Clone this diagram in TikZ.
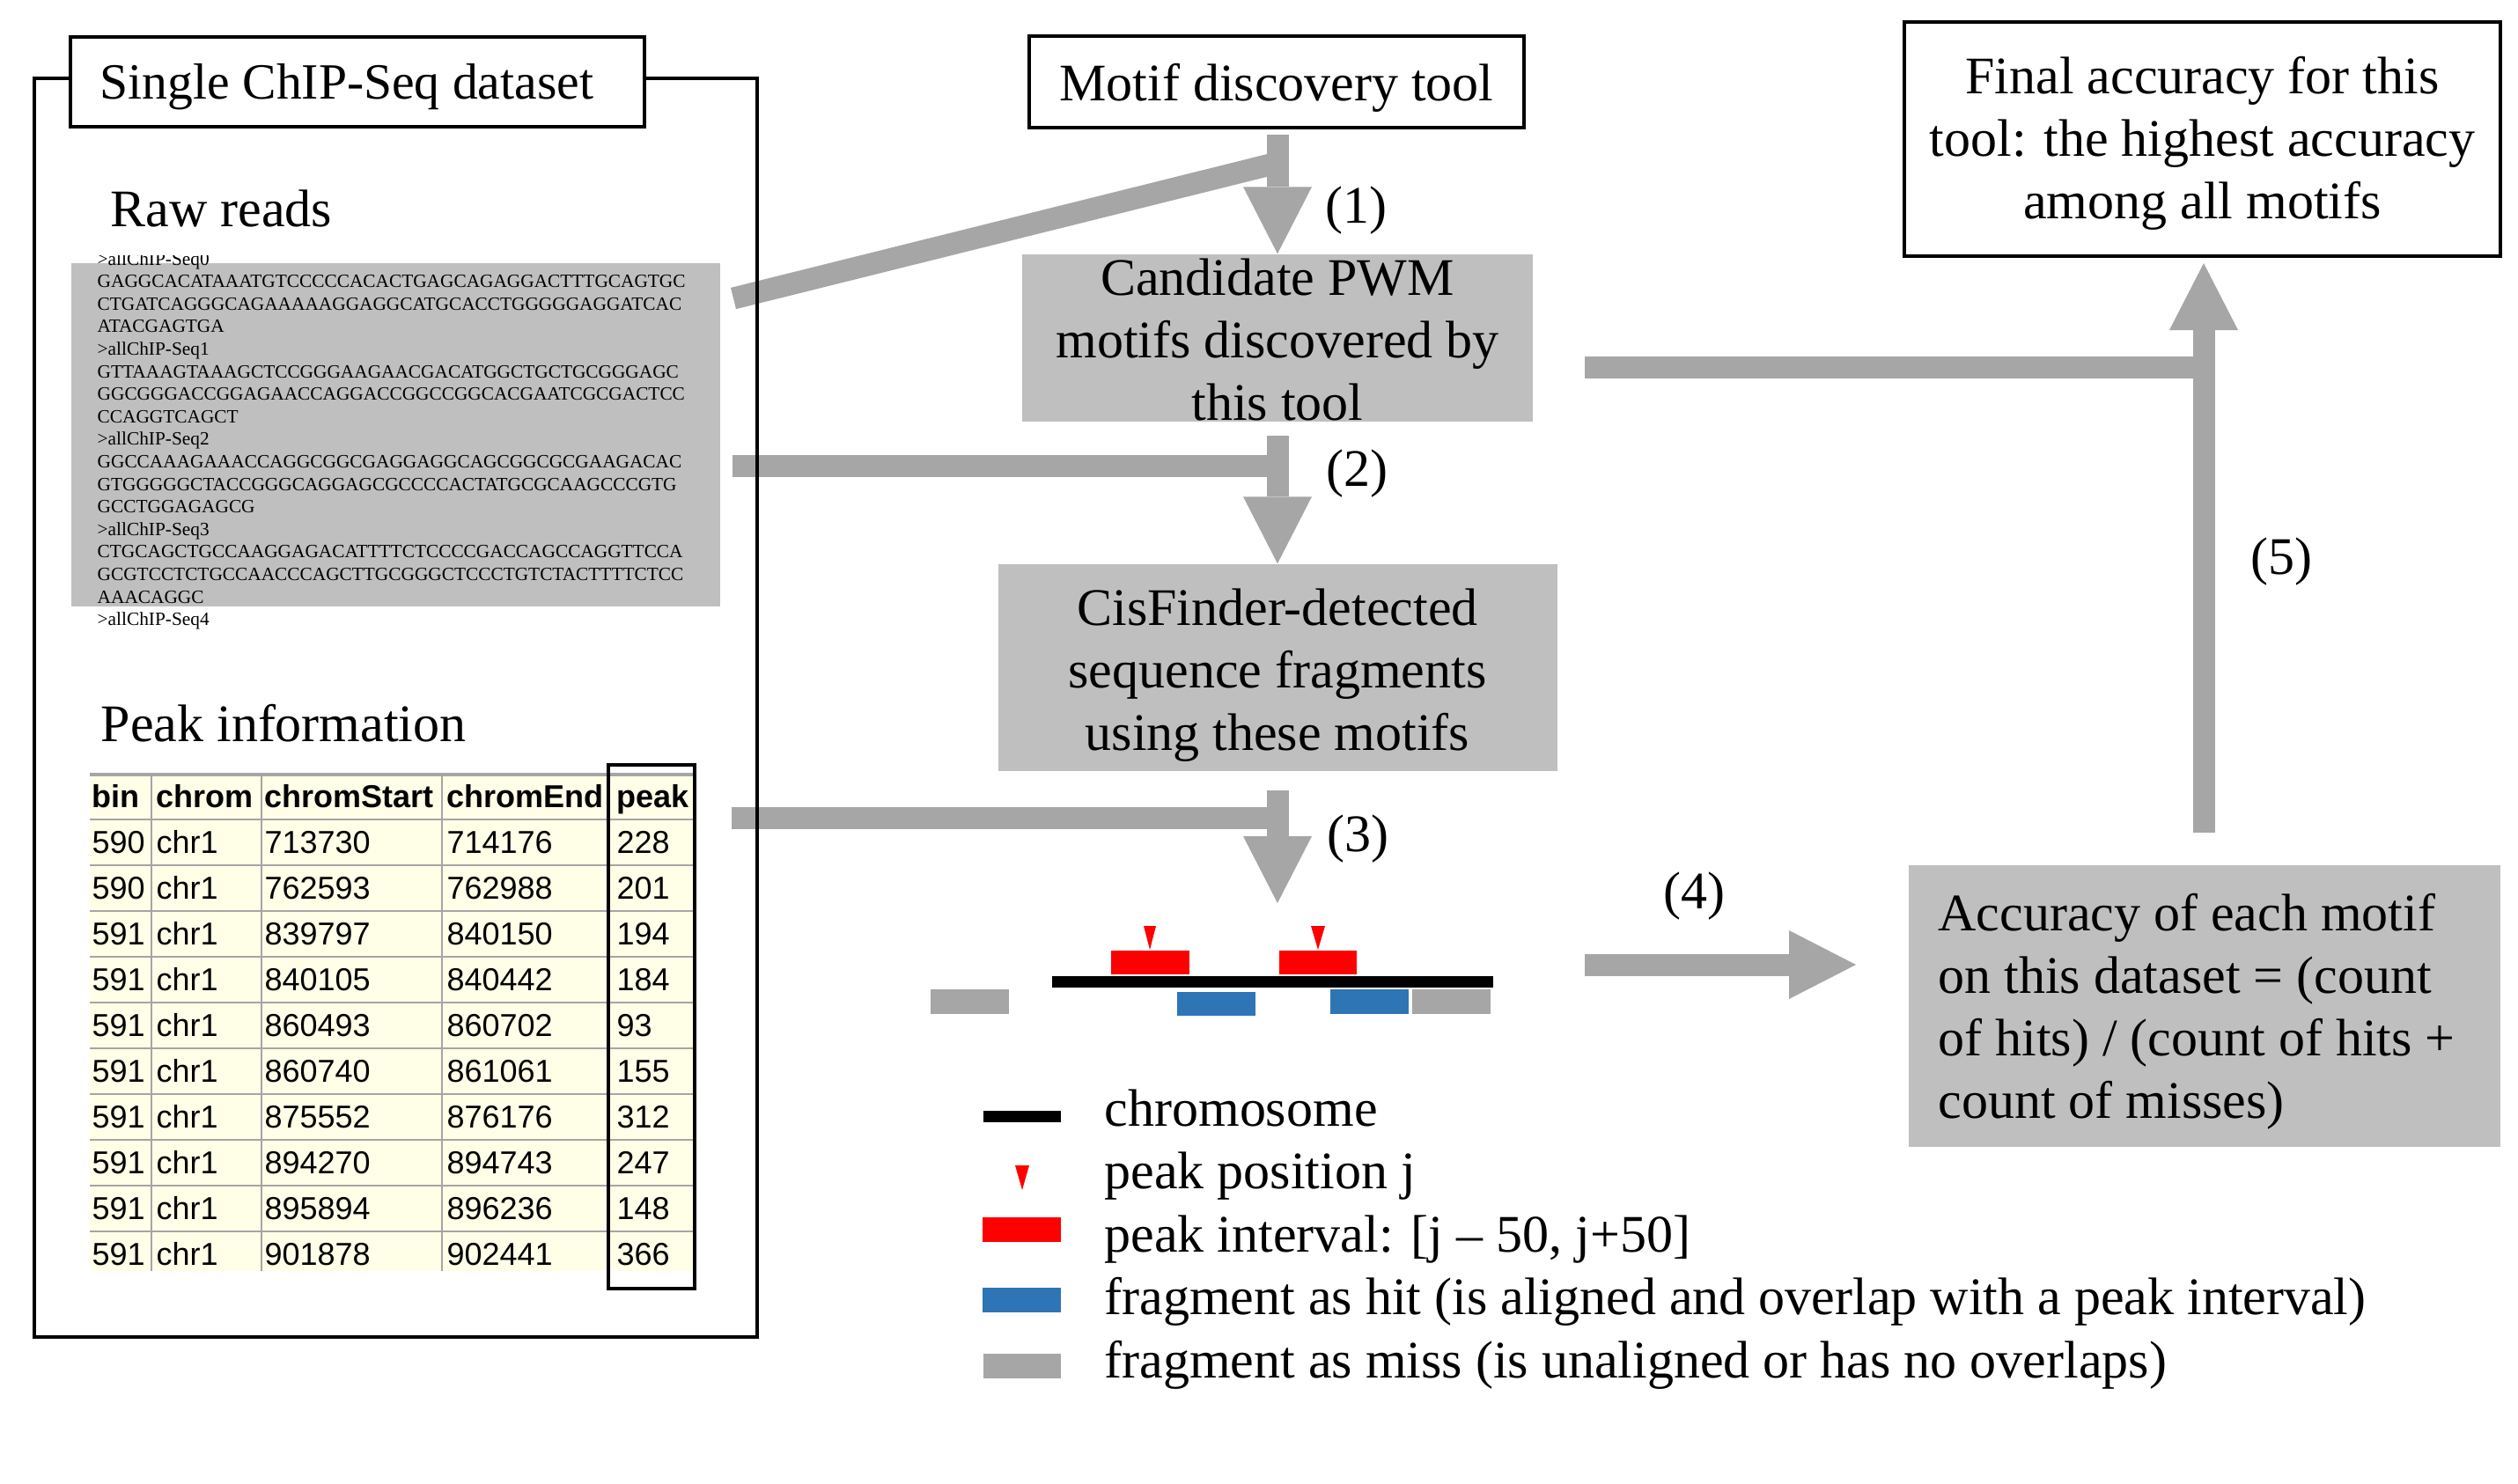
\documentclass[tikz,border=0pt]{standalone}
\usepackage{fontspec}
\setmainfont{Liberation Serif}
\newfontfamily\tablefont{Liberation Sans}
\usepackage{array}
\usetikzlibrary{arrows.meta}
\definecolor{arrowgrey}{RGB}{166,166,166}
\definecolor{boxgrey}{RGB}{191,191,191}
\definecolor{hitblue}{RGB}{46,117,182}
\definecolor{tablecream}{RGB}{255,255,232}
\definecolor{tablegrid}{RGB}{165,165,165}
\newcommand\rowstrut{\rule[-1.4mm]{0pt}{5.2mm}}

\begin{document}
\begin{tikzpicture}[font=\fontsize{17.07}{20.2}\selectfont]
	\tikzstyle{none}=[inner sep=0pt]
	\tikzstyle{words}=[inner sep=0pt, anchor=base west]
	\tikzstyle{whitebox}=[draw, fill=white, line width=0.45mm, inner sep=0pt, align=center]
	\tikzstyle{greybox}=[fill=boxgrey, inner sep=0pt, align=center]
	\tikzstyle{outline}=[draw, line width=0.45mm]
	\tikzstyle{arrow1}=[-{Triangle[width=7.8mm,length=7.6mm,line width=0pt]}, draw=arrowgrey, line width=2.5mm]
	\tikzstyle{simple}=[-, draw=arrowgrey, line width=2.5mm]
	\tikzstyle{tablerule}=[-, draw=tablegrid, line width=0.25mm]
	\useasboundingbox (0, 0) rectangle (28.6, -16.85);

		% boxes of the pipeline
		\node [style=whitebox, minimum width=5.62cm, minimum height=1.04cm, text height=4.2mm, text depth=0pt] (8) at (14.5, -0.93) {Motif discovery tool};
		\node [style=greybox, minimum width=5.8cm, minimum height=1.9cm] (9) at (14.51, -3.84) {\rule{0pt}{4.5mm}Candidate PWM\\motifs discovered by\\this tool};
		\node [style=greybox, minimum width=6.35cm, minimum height=2.35cm] (10) at (14.51, -7.585) {\rule{0pt}{5.9mm}CisFinder-detected\\sequence fragments\\using these motifs};
		\node [style=whitebox, minimum width=6.77cm, minimum height=2.66cm] (11) at (25.015, -1.58) {\rule{0pt}{5.2mm}Final accuracy for this\\tool: the highest accuracy\\among all motifs};
		\node [style=greybox, minimum width=6.72cm, minimum height=3.2cm, align=left] (12) at (25.04, -11.43) {\rule{0pt}{5.5mm}Accuracy of each motif\\on this dataset = (count\\of hits) / (count of hits +\rule{1.8mm}{0pt}\\count of misses)};

		\node [style=none] (13) at (14.51, -1.53) {};
		\node [style=none] (14) at (8.33, -3.39) {};
		\node [style=none] (15) at (14.51, -1.85) {};
		\node [style=none] (16) at (8.32, -5.29) {};
		\node [style=none] (17) at (14.51, -5.29) {};
		\node [style=none] (18) at (14.51, -4.95) {};
		\node [style=none] (19) at (8.31, -9.29) {};
		\node [style=none] (20) at (14.51, -9.29) {};
		\node [style=none] (21) at (14.51, -8.98) {};
		\node [style=none] (22) at (14.51, -10.26) {};
		\node [style=none] (23) at (18, -10.96) {};
		\node [style=none] (24) at (21.08, -10.96) {};
		\node [style=none] (25) at (18, -4.17) {};
		\node [style=none] (26) at (25.03, -4.17) {};
		\node [style=none] (27) at (25.03, -9.46) {};
		\node [style=none] (28) at (25.03, -2.99) {};

		\node [style=none] (29) at (15.4, -2.39) {(1)};
		\node [style=none] (30) at (15.41, -5.38) {(2)};
		\node [style=none] (31) at (15.42, -9.53) {(3)};
		\node [style=none] (32) at (19.24, -10.18) {(4)};
		\node [style=none] (33) at (25.91, -6.38) {(5)};

		\draw [style=arrow1] (13.center) to (9.north);
		\draw [style=simple] (14.center) to (15.center);
		\draw [style=simple] (16.center) to (17.center);
		\draw [style=arrow1] (18.center) to (10.north);
		\draw [style=simple] (19.center) to (20.center);
		\draw [style=arrow1] (21.center) to (22.center);
		\draw [style=arrow1] (23.center) to (24.center);
		\draw [style=simple] (25.center) to (26.center);
		\draw [style=arrow1] (27.center) to (28.center);

		% the dataset
		\draw [style=outline] (0.39, -0.89) rectangle (8.6, -15.19);
		\node [style=whitebox, minimum width=6.52cm, minimum height=1.02cm, text height=3.8mm, text depth=0pt, font=\fontsize{16.4}{20}\selectfont] (0) at (4.06, -0.93) {Single ChIP-Seq dataset\hspace{2.4mm}};
		\node [style=words] (1) at (1.25, -2.57) {Raw reads};
		\node [style=greybox, minimum width=7.37cm, minimum height=3.9cm] (2) at (4.495, -4.94) {};
		\begin{scope}
			\clip (0.8, -2.9) rectangle (8.2, -7.3);
			\node [style=none, anchor=north west, align=left, font=\fontsize{6.07}{7.28}\selectfont] (3) at (1.1, -2.857) {>allChIP-Seq0\\GAGGCACATAAATGTCCCCCACACTGAGCAGAGGACTTTGCAGTGC\\CTGATCAGGGCAGAAAAAGGAGGCATGCACCTGGGGGAGGATCAC\\ATACGAGTGA\\>allChIP-Seq1\\GTTAAAGTAAAGCTCCGGGAAGAACGACATGGCTGCTGCGGGAGC\\GGCGGGACCGGAGAACCAGGACCGGCCGGCACGAATCGCGACTCC\\CCAGGTCAGCT\\>allChIP-Seq2\\GGCCAAAGAAACCAGGCGGCGAGGAGGCAGCGGCGCGAAGACAC\\GTGGGGGCTACCGGGCAGGAGCGCCCCACTATGCGCAAGCCCGTG\\GCCTGGAGAGCG\\>allChIP-Seq3\\CTGCAGCTGCCAAGGAGACATTTTCTCCCCGACCAGCCAGGTTCCA\\GCGTCCTCTGCCAACCCAGCTTGCGGGCTCCCTGTCTACTTTTCTCC\\AAACAGGC\\>allChIP-Seq4};
		\end{scope}

		\node [style=words] (4) at (1.14, -8.42) {Peak information};
		\fill [tablecream] (1.02, -8.8) rectangle (7.88, -14.44);
		\draw [style=tablerule, line width=0.45mm] (1.02, -8.8) to (7.88, -8.8);
		\draw [style=tablerule] (1.02, -9.31) -- (7.88, -9.31) (1.02, -9.83) -- (7.88, -9.83) (1.02, -10.35) -- (7.88, -10.35) (1.02, -10.87) -- (7.88, -10.87) (1.02, -11.39) -- (7.88, -11.39) (1.02, -11.91) -- (7.88, -11.91) (1.02, -12.43) -- (7.88, -12.43) (1.02, -12.95) -- (7.88, -12.95) (1.02, -13.47) -- (7.88, -13.47) (1.02, -13.99) -- (7.88, -13.99);
		\draw [style=tablerule] (1.72, -8.8) -- (1.72, -14.44) (2.97, -8.8) -- (2.97, -14.44) (5.02, -8.8) -- (5.02, -14.44) (6.92, -8.8) -- (6.92, -14.44);
		\node [style=none, anchor=north west] (5) at (1.02, -8.79) {\tablefont\fontsize{10.24}{12}\selectfont\setlength\tabcolsep{0pt}%
			\begin{tabular}{@{}>{\rowstrut\hspace{0.2mm}}p{7mm}>{\hspace{0.5mm}}p{12.5mm}>{\hspace{0.3mm}}p{20.5mm}>{\hspace{0.5mm}}p{19mm}>{\hspace{0.8mm}}p{9.4mm}@{}}
				\textbf{bin} & \textbf{chrom} & \textbf{chromStart} & \textbf{chromEnd} & \textbf{peak}\\
				590 & chr1 & 713730 & 714176 & 228\\
				590 & chr1 & 762593 & 762988 & 201\\
				591 & chr1 & 839797 & 840150 & 194\\
				591 & chr1 & 840105 & 840442 & 184\\
				591 & chr1 & 860493 & 860702 & 93\\
				591 & chr1 & 860740 & 861061 & 155\\
				591 & chr1 & 875552 & 876176 & 312\\
				591 & chr1 & 894270 & 894743 & 247\\
				591 & chr1 & 895894 & 896236 & 148\\
				591 & chr1 & 901878 & 902441 & 366
			\end{tabular}};
		\draw [style=outline, line width=0.4mm] (6.91, -8.69) rectangle (7.89, -14.64);

		% peaks and fragments
		\fill [red] (12.99, -10.52) -- (13.13, -10.52) -- (13.06, -10.79) -- cycle;
		\fill [red] (14.89, -10.52) -- (15.05, -10.52) -- (14.97, -10.79) -- cycle;
		\fill [red] (12.62, -10.8) rectangle (13.51, -11.07);
		\fill [red] (14.53, -10.8) rectangle (15.41, -11.07);
		\fill [black] (11.95, -11.09) rectangle (16.96, -11.22);
		\fill [arrowgrey] (10.57, -11.24) rectangle (11.46, -11.52);
		\fill [hitblue] (13.37, -11.27) rectangle (14.26, -11.54);
		\fill [hitblue] (15.11, -11.24) rectangle (16, -11.52);
		\fill [arrowgrey] (16.04, -11.24) rectangle (16.93, -11.52);

		% legend
		\fill [black] (11.17, -12.62) rectangle (12.05, -12.75);
		\fill [red] (11.53, -13.24) -- (11.69, -13.24) -- (11.61, -13.52) -- cycle;
		\fill [red] (11.16, -13.83) rectangle (12.05, -14.11);
		\fill [hitblue] (11.16, -14.63) rectangle (12.05, -14.91);
		\fill [arrowgrey] (11.17, -15.38) rectangle (12.05, -15.66);
		\node [style=words] (6) at (12.54, -12.79) {chromosome};
		\node [style=words] (7) at (12.54, -13.5) {peak position j};
		\node [style=words] (34) at (12.54, -14.22) {peak interval: [j – 50, j+50]};
		\node [style=words] (35) at (12.54, -14.93) {fragment as hit (is aligned and overlap with a peak interval)};
		\node [style=words] (36) at (12.54, -15.65) {fragment as miss (is unaligned or has no overlaps)};

\end{tikzpicture}
\end{document}
